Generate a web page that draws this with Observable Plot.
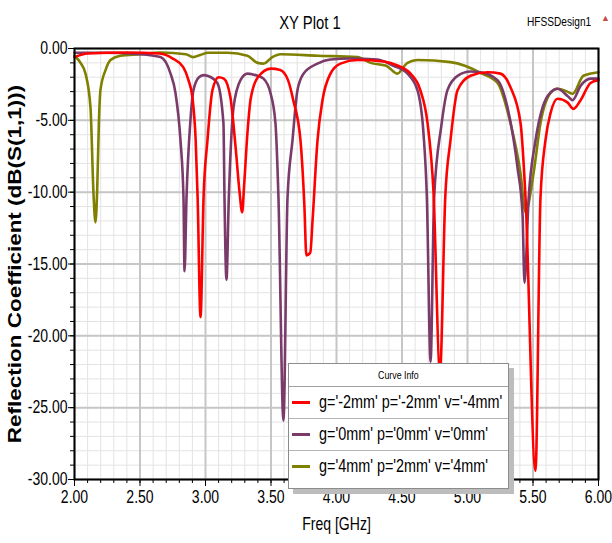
<!DOCTYPE html>
<html><head><meta charset="utf-8">
<script src="https://cdn.jsdelivr.net/npm/d3@7"></script>
<script src="https://cdn.jsdelivr.net/npm/@observablehq/plot@0.6"></script>
<style>
body{margin:0;background:#fff;}
#wrap{position:relative;width:612px;height:543px;overflow:hidden;font-family:"Liberation Sans",Arial,sans-serif;color:#000;}
#chart{position:absolute;left:0;top:0;}
.lbl{position:absolute;white-space:nowrap;line-height:1;}
#title{left:310px;top:13px;font-size:19px;transform:translateX(-50%) scaleX(.78);}
#design{left:527px;top:15px;font-size:13px;transform:scaleX(.78);transform-origin:0 50%;}
#icon{position:absolute;left:601px;top:14px;font-size:9px;color:#c84848;line-height:1;}
#legend{position:absolute;left:288px;top:363px;width:219px;height:124px;background:#fff;border:1px solid #8c8c8c;box-shadow:5px 5px 0 #bdbdbd;}
.lhead{height:22px;line-height:22px;text-align:center;font-size:11px;border-bottom:1px solid #a0a0a0;}
.lhead span{display:inline-block;transform:scaleX(.8);}
.lrow{position:relative;height:31px;border-bottom:1px solid #b4b4b4;}
.lrow:last-child{border-bottom:none;}
.sw{position:absolute;left:3px;top:14px;width:18px;height:3px;}
.lt{position:absolute;left:30px;top:0;font-size:18px;line-height:31px;white-space:nowrap;transform:scaleX(.8);transform-origin:0 50%;}
</style></head>
<body>
<div id="wrap">
  <div id="chart"></div>
  <div class="lbl" id="title">XY Plot 1</div>
  <div class="lbl" id="design">HFSSDesign1</div>
  <div id="icon">▲</div>
  <div id="legend"></div>
</div>
<script>
// ---- data ----
const curveNames = ["g='-2mm' p='-2mm' v='-4mm'", "g='0mm' p='0mm' v='0mm'", "g='4mm' p='2mm' v='4mm'"];
const curveColors = ["#ff0000", "#7a3b6b", "#808000"];

const freqRed = [2.00, 2.10, 2.40, 2.65, 2.75, 2.83, 2.87, 2.90, 2.925, 2.94, 2.962, 2.985, 3.015, 3.053, 3.10, 3.14, 3.19, 3.23, 3.26, 3.28, 3.295, 3.32, 3.345, 3.40, 3.50, 3.57, 3.63, 3.67, 3.725, 3.755, 3.77, 3.80, 3.817, 3.855, 3.893, 3.954, 4.03, 4.16, 4.36, 4.47, 4.565, 4.64, 4.695, 4.74, 4.79, 4.83, 4.87, 4.924, 5.023, 5.153, 5.252, 5.328, 5.405, 5.443, 5.519, 5.557, 5.595, 5.634, 5.687, 5.763, 5.809, 5.863, 5.939, 6.00];
const s11Red = [-0.6, -0.35, -0.28, -0.35, -0.7, -1.3, -2.2, -3.4, -6.4, -10.4, -18.7, -10.4, -6.4, -2.9, -2.0, -2.1, -3.4, -6.9, -10.0, -11.4, -9.5, -5.9, -3.5, -2.0, -1.4, -1.5, -2.2, -3.6, -6.4, -11.0, -14.4, -14.2, -12.0, -6.4, -3.6, -1.75, -1.05, -0.8, -0.9, -1.2, -1.75, -2.9, -5.2, -9.9, -22.5, -10.4, -6.4, -2.9, -1.9, -1.65, -1.75, -2.7, -5.2, -10.4, -29.4, -10.4, -6.4, -4.5, -3.5, -3.75, -4.2, -3.6, -2.4, -2.2];

const freqPurple = [2.00, 2.20, 2.50, 2.656, 2.733, 2.771, 2.809, 2.832, 2.84, 2.855, 2.885, 2.908, 2.95, 2.985, 3.015, 3.09, 3.137, 3.145, 3.16, 3.178, 3.214, 3.267, 3.321, 3.397, 3.443, 3.496, 3.534, 3.557, 3.595, 3.626, 3.664, 3.702, 3.748, 3.855, 3.954, 4.107, 4.313, 4.435, 4.542, 4.618, 4.664, 4.69, 4.718, 4.745, 4.80, 4.847, 4.924, 5.023, 5.099, 5.229, 5.305, 5.382, 5.42, 5.435, 5.467, 5.519, 5.573, 5.634, 5.687, 5.763, 5.802, 5.863, 5.939, 6.00];
const s11Purple = [-0.3, -0.3, -0.4, -0.6, -1.75, -3.1, -6.4, -10.4, -15.5, -10.4, -5.0, -2.9, -2.0, -1.85, -1.9, -2.4, -5.2, -10.4, -16.1, -10.4, -4.1, -2.2, -1.75, -1.9, -2.1, -3.1, -5.2, -10.4, -25.9, -10.4, -6.4, -2.9, -1.75, -1.05, -0.77, -0.7, -0.77, -1.2, -1.75, -2.9, -5.9, -10.4, -21.8, -10.4, -5.4, -2.9, -1.9, -1.6, -1.65, -2.2, -4.1, -8.3, -11.5, -16.3, -10.4, -6.4, -4.1, -3.05, -2.8, -3.3, -3.6, -2.6, -2.1, -2.1];

const freqOlive = [2.00, 2.046, 2.084, 2.122, 2.145, 2.16, 2.173, 2.186, 2.198, 2.237, 2.275, 2.351, 2.504, 2.656, 2.85, 2.905, 2.96, 3.02, 3.17, 3.32, 3.397, 3.443, 3.51, 3.573, 3.855, 4.16, 4.26, 4.38, 4.466, 4.51, 4.542, 4.618, 4.87, 4.98, 5.099, 5.229, 5.328, 5.405, 5.443, 5.504, 5.557, 5.634, 5.687, 5.763, 5.802, 5.885, 6.00];
const s11Olive = [-0.5, -1.0, -1.75, -4.1, -10.1, -12.1, -9.9, -5.2, -2.9, -1.5, -0.8, -0.5, -0.4, -0.28, -0.4, -0.6, -0.45, -0.3, -0.3, -0.5, -1.0, -1.05, -0.6, -0.4, -0.5, -0.6, -1.0, -1.2, -1.75, -1.3, -1.0, -0.8, -0.95, -1.2, -1.7, -2.4, -5.2, -8.7, -11.4, -8.7, -5.2, -3.1, -2.8, -3.0, -3.15, -1.9, -1.65];

const xTicks = [2.0, 2.5, 3.0, 3.5, 4.0, 4.5, 5.0, 5.5, 6.0];
const xTickLabels = ["2.00", "2.50", "3.00", "3.50", "4.00", "4.50", "5.00", "5.50", "6.00"];
const yTicks = [0, -5, -10, -15, -20, -25, -30];
const yTickLabels = ["0.00", "-5.00", "-10.00", "-15.00", "-20.00", "-25.00", "-30.00"];
const xLabel = "Freq [GHz]";
const yLabel = "Reflection Coefficient (dB(S(1,1)))";

// ---- table (olive drawn first, red last on top) ----
const series = [[freqOlive, s11Olive, curveNames[2]], [freqPurple, s11Purple, curveNames[1]], [freqRed, s11Red, curveNames[0]]];
const rows = [];
series.forEach(([f, s, n]) => f.forEach((v, i) => rows.push({freq: v, s11: s[i], curve: n})));

const font = "'Liberation Sans', Arial, sans-serif";
const chart = Plot.plot({
  width: 612, height: 543,
  marginLeft: 74, marginRight: 14, marginTop: 48, marginBottom: 64,
  style: {fontFamily: font, background: "transparent", color: "#000", overflow: "visible"},
  x: {domain: [2, 6]},
  y: {domain: [-30, 0]},
  color: {domain: curveNames, range: curveColors},
  marks: [
    Plot.gridX({ticks: 40, stroke: "#e3e3e3", strokeOpacity: 1, strokeWidth: 1}),
    Plot.gridY({ticks: 30, stroke: "#e3e3e3", strokeOpacity: 1, strokeWidth: 1}),
    Plot.gridX(xTicks, {stroke: "#c6c6c6", strokeOpacity: 1, strokeWidth: 2}),
    Plot.gridY(yTicks, {stroke: "#c6c6c6", strokeOpacity: 1, strokeWidth: 2}),
    Plot.line(rows, {x: "freq", y: "s11", z: "curve", stroke: "curve", strokeWidth: 2.6, curve: "monotone-x"}),
    Plot.frame({stroke: "#000", strokeWidth: 2}),
    Plot.axisX({ticks: 40, tickSize: 4, tickFormat: () => "", label: null}),
    Plot.axisX(xTicks, {tickSize: 7, tickPadding: 4, fontSize: 18, tickFormat: d => xTickLabels[xTicks.indexOf(d)], label: null}),
    Plot.axisX({ticks: [], label: xLabel, labelAnchor: "center", labelOffset: 50, labelArrow: "none", fontSize: 18}),
    Plot.axisY({ticks: 30, tickSize: 4, tickFormat: () => "", label: null}),
    Plot.axisY(yTicks, {tickSize: 6, tickPadding: 1, fontSize: 18, tickFormat: d => yTickLabels[yTicks.indexOf(d)], label: null}),
    Plot.axisY({ticks: [], label: yLabel, labelAnchor: "center", labelOffset: 66, labelArrow: "none", fontSize: 22.5, fontWeight: "bold"})
  ]
});

// horizontally condensed text like the reference
const K = 0.78;
chart.querySelectorAll("text").forEach(t => {
  const tr = t.getAttribute("transform") || "";
  t.setAttribute("transform", tr + (tr.includes("rotate") ? ` scale(1,${K})` : ` scale(${K},1)`));
});
document.getElementById("chart").appendChild(chart);

// legend box (Curve Info)
const lg = document.getElementById("legend");
const head = document.createElement("div");
head.className = "lhead";
head.innerHTML = "<span>Curve Info</span>";
lg.appendChild(head);
curveNames.forEach((n, i) => {
  const r = document.createElement("div");
  r.className = "lrow";
  const sw = document.createElement("div");
  sw.className = "sw"; sw.style.background = curveColors[i];
  const t = document.createElement("div");
  t.className = "lt"; t.textContent = n;
  r.appendChild(sw); r.appendChild(t);
  lg.appendChild(r);
});
</script>
</body></html>
